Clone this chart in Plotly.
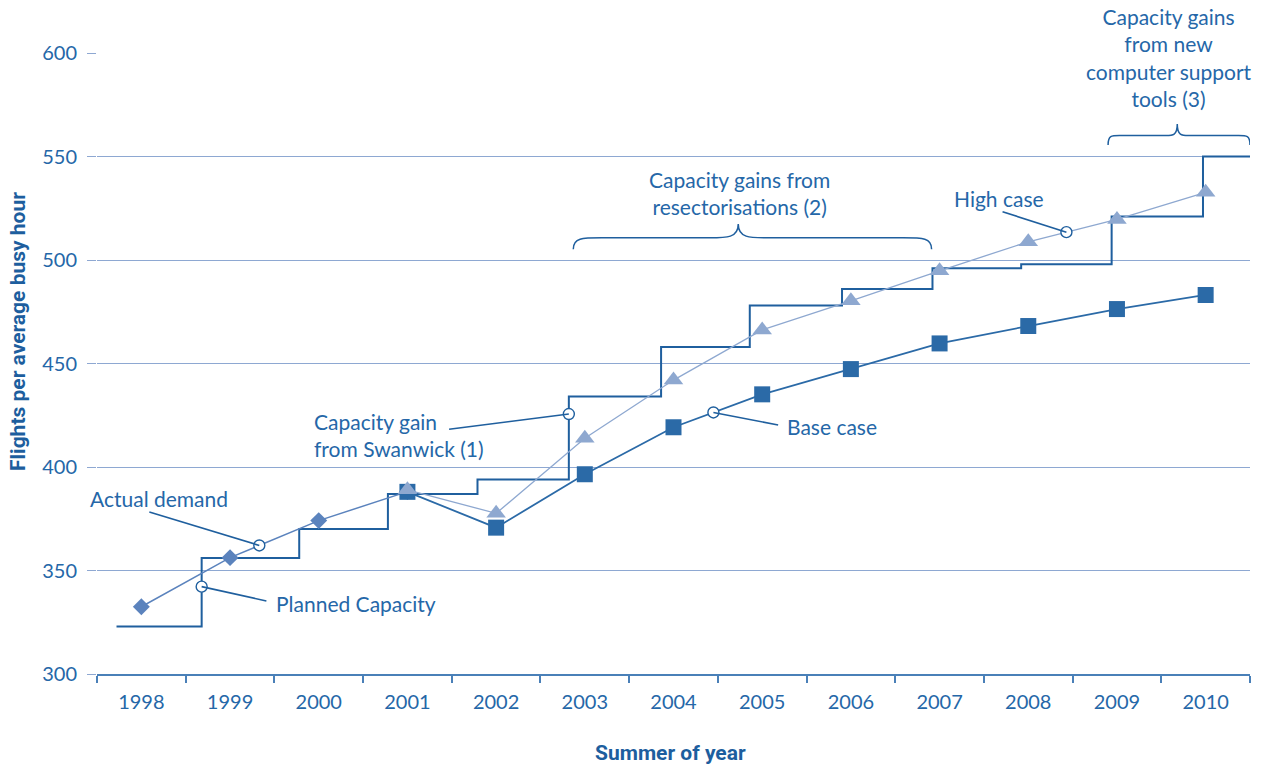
import numpy as np
import plotly.graph_objects as go

# ---- data -------------------------------------------------------------
years = list(range(1998, 2011))
year_labels = [str(y) for y in years]

demand_years = [1998, 1999, 2000, 2001]
actual_demand = [332.5, 356.2, 374.1, 388.1]

forecast_years = list(range(2001, 2011))
base_case = [388.0, 370.7, 396.5, 419.2, 435.1, 447.3, 459.7, 468.1, 476.3, 483.1]
high_case = [389.0, 377.6, 413.9, 442.0, 466.2, 480.3, 494.8, 508.8, 519.6, 532.7]

# planned capacity: level in force from each change point onwards
capacity_change_at = [1997.72, 1998.68, 1999.78, 2000.78, 2001.79, 2002.82, 2003.86,
                      2004.86, 2005.90, 2006.92, 2007.92, 2008.94, 2009.97]
capacity_level = [323, 356, 370, 387, 394, 434, 458, 478, 486, 496, 498, 521, 550]
capacity_end = 2010.5

# ---- styling ----------------------------------------------------------
TEXT = "#2567a8"
GRID = "#8ea8d2"
STEP = "#1f5f9e"
BASE = "#2b6aa7"
HIGH = "#8ea8d0"
DEM = "#5b83bd"
AXIS = "#4a80b8"
FONT = "Lato, 'Noto Sans', sans-serif"
TITLE_FONT = "'Liberation Sans Narrow', 'Roboto', sans-serif"
LABEL_SIZE = 21
TICK_SIZE = 20

fig = go.Figure()

# step line for planned capacity
fig.add_trace(go.Scatter(
    x=capacity_change_at + [capacity_end],
    y=capacity_level + [capacity_level[-1]],
    mode="lines", line=dict(color=STEP, width=2, shape="hv"),
    hoverinfo="skip", showlegend=False))

fig.add_trace(go.Scatter(
    x=demand_years, y=actual_demand, mode="lines+markers",
    line=dict(color=DEM, width=1.5),
    marker=dict(symbol="diamond", size=13, color=DEM),
    showlegend=False, name="Actual demand"))

fig.add_trace(go.Scatter(
    x=forecast_years, y=base_case, mode="lines+markers",
    line=dict(color=BASE, width=1.8),
    marker=dict(symbol="square", size=16, color=BASE),
    showlegend=False, name="Base case"))

fig.add_trace(go.Scatter(
    x=forecast_years, y=high_case, mode="lines+markers",
    line=dict(color=HIGH, width=1.3),
    marker=dict(symbol="triangle-up", size=17, color=HIGH),
    showlegend=False, name="High case"))

# ---- call-outs: open circle on a series, leader line, label -------------
callouts = [
    # (circle x, circle y, leader end x, leader end y, label, label x, label y)
    (1999.33, float(np.interp(1999.33, demand_years, actual_demand)),
     1998.09, 378.3, "Actual demand", 1997.5, 385.0),
    (1998.68, 342.2, 1999.41, 335.3, "Planned Capacity", 1999.49, 334.3),
    (2002.82, 425.6, 2001.47, 418.2, "Capacity gain<br>from Swanwick (1)", 1999.92, 415.7),
    (2004.45, float(np.interp(2004.45, forecast_years, base_case)),
     2005.18, 420.3, "Base case", 2005.26, 419.8),
    (2008.43, float(np.interp(2008.43, forecast_years, high_case)),
     2007.71, 523.3, "High case", 2007.14, 529.5),
]

shapes = []
annotations = []
for cx, cy, lx, ly, label, tx, ty in callouts:
    shapes.append(dict(type="line", xref="x", yref="y", x0=lx, y0=ly, x1=cx, y1=cy,
                       line=dict(color=STEP, width=1.6)))
    annotations.append(dict(x=tx, y=ty, xref="x", yref="y", text=label, showarrow=False,
                            xanchor="left", yanchor="middle", align="left",
                            xshift=-9 if label == "Actual demand" else 0,
                            font=dict(family=FONT, size=LABEL_SIZE, color=TEXT)))

fig.add_trace(go.Scatter(
    x=[c[0] for c in callouts], y=[c[1] for c in callouts], mode="markers",
    marker=dict(symbol="circle", size=11, color="white", line=dict(color=STEP, width=1.4)),
    hoverinfo="skip", showlegend=False))


def brace(x0, x1, xtip, y0, h):
    """Curly brace opening downwards, ends at y0, tip at y0 + h."""
    ym = y0 + h * 0.45
    w = x1 - x0
    a = w * 0.08
    return (f"M{x0},{y0} C{x0},{ym} {x0 + a * 0.3},{ym} {x0 + a},{ym} "
            f"L{xtip - a},{ym} C{xtip - a * 0.4},{ym} {xtip},{ym} {xtip},{y0 + h} "
            f"C{xtip},{ym} {xtip + a * 0.4},{ym} {xtip + a},{ym} "
            f"L{x1 - a},{ym} C{x1 - a * 0.3},{ym} {x1},{ym} {x1},{y0}")


shapes.append(dict(type="path", xref="x", yref="y",
                   path=brace(2002.87, 2006.91, 2004.73, 505.2, 12.2),
                   line=dict(color=STEP, width=1.5)))
shapes.append(dict(type="path", xref="x", yref="y",
                   path=brace(2008.90, 2010.5, 2009.68, 555.6, 10.1),
                   line=dict(color=STEP, width=1.5)))

annotations.append(dict(x=2004.74, y=532.6, xref="x", yref="y",
                        text="Capacity gains from<br>resectorisations (2)",
                        showarrow=False, xanchor="center", yanchor="middle", align="center",
                        font=dict(family=FONT, size=LABEL_SIZE, color=TEXT)))
annotations.append(dict(x=2009.59, y=597.6, xref="x", yref="y",
                        text="Capacity gains<br>from new<br>computer support<br>tools (3)",
                        showarrow=False, xanchor="center", yanchor="middle", align="center",
                        font=dict(family=FONT, size=LABEL_SIZE, color=TEXT)))

# axis titles
annotations.append(dict(x=0, y=0.5507, xref="paper", yref="paper", xshift=-79,
                        text="<b>Flights per average busy hour</b>", textangle=-90,
                        showarrow=False, xanchor="center", yanchor="middle",
                        font=dict(family=TITLE_FONT, size=21, color="#1d5e9e")))
annotations.append(dict(x=0.497, y=0, xref="paper", yref="paper", yshift=-79,
                        text="<b>Summer of year</b>",
                        showarrow=False, xanchor="center", yanchor="middle",
                        font=dict(family=TITLE_FONT, size=21, color="#1d5e9e")))

fig.update_layout(
    width=1265, height=766,
    margin=dict(l=97, r=15, t=53, b=92),
    paper_bgcolor="white", plot_bgcolor="white",
    showlegend=False,
    shapes=shapes, annotations=annotations,
    font=dict(family=FONT, size=TICK_SIZE, color=TEXT),
)

fig.update_xaxes(
    range=[1997.5, 2010.5], tickvals=years, ticktext=year_labels,
    ticks="", showgrid=False, zeroline=False,
    showline=True, linecolor=AXIS, linewidth=1.6,
    ticklabelstandoff=9,
    tickfont=dict(family=FONT, size=TICK_SIZE, color=TEXT),
    minor=dict(tickvals=[y - 0.5 for y in years] + [years[-1] + 0.5],
               ticks="outside", ticklen=7, tickcolor=AXIS, tickwidth=1.5, showgrid=False),
)

fig.update_yaxes(
    range=[300, 600], dtick=50, tick0=300,
    showgrid=True, gridcolor=GRID, gridwidth=1.2,
    ticks="outside", ticklen=9, tickcolor=GRID, tickwidth=1.2,
    zeroline=False, showline=False,
    ticklabelstandoff=6,
    tickfont=dict(family=FONT, size=TICK_SIZE, color=TEXT),
)

fig.write_html("out.html")
